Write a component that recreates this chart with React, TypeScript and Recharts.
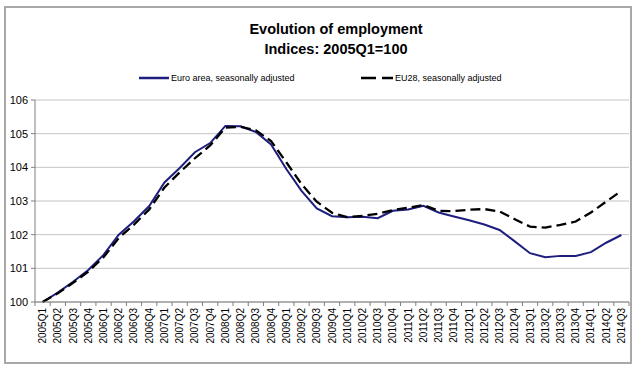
import React from "react";
import { LineChart, Line, XAxis, YAxis, CartesianGrid } from "recharts";

const quarters: string[] = [
  "2005Q1","2005Q2","2005Q3","2005Q4",
  "2006Q1","2006Q2","2006Q3","2006Q4",
  "2007Q1","2007Q2","2007Q3","2007Q4",
  "2008Q1","2008Q2","2008Q3","2008Q4",
  "2009Q1","2009Q2","2009Q3","2009Q4",
  "2010Q1","2010Q2","2010Q3","2010Q4",
  "2011Q1","2011Q2","2011Q3","2011Q4",
  "2012Q1","2012Q2","2012Q3","2012Q4",
  "2013Q1","2013Q2","2013Q3","2013Q4",
  "2014Q1","2014Q2","2014Q3",
];

const euroArea: number[] = [
  100.0, 100.28, 100.6, 100.95,
  101.4, 102.0, 102.4, 102.85,
  103.55, 103.98, 104.45, 104.72,
  105.23, 105.22, 105.05, 104.68,
  103.95, 103.3, 102.78, 102.55,
  102.52, 102.53, 102.49, 102.71,
  102.75, 102.86, 102.66, 102.54,
  102.43, 102.3, 102.14, 101.8,
  101.45, 101.33, 101.37, 101.37,
  101.48, 101.76, 101.99,
];

const eu28: number[] = [
  100.0, 100.26, 100.57, 100.9,
  101.33, 101.9, 102.3, 102.75,
  103.4, 103.85, 104.27, 104.65,
  105.18, 105.2, 105.1, 104.78,
  104.15, 103.5, 102.98, 102.65,
  102.52, 102.56, 102.62, 102.73,
  102.8, 102.88, 102.71, 102.7,
  102.74, 102.76, 102.69, 102.46,
  102.24, 102.21, 102.29, 102.39,
  102.66, 102.98, 103.3,
];

const yTicks: number[] = [100, 101, 102, 103, 104, 105, 106];

const titleLines: string[] = ["Evolution of employment", "Indices: 2005Q1=100"];
const legendLabels: string[] = ["Euro area, seasonally adjusted", "EU28, seasonally adjusted"];

const data = quarters.map((q, i) => ({ q, euro: euroArea[i], eu28: eu28[i] }));

const FONT = "'Liberation Sans', Arial, sans-serif";
const BLUE = "#1e1e7e";
const HALF_BAND = 7.6;

const XTick = (props: any) => {
  const { x, y, payload, index } = props;
  const axisY = y - 6;
  const last = index === quarters.length - 1;
  return (
    <g>
      <line x1={x - HALF_BAND} x2={x - HALF_BAND} y1={axisY} y2={axisY + 4} stroke="#808080" />
      {last && (
        <line x1={x + HALF_BAND} x2={x + HALF_BAND} y1={axisY} y2={axisY + 4} stroke="#808080" />
      )}
      <text
        x={x}
        y={y}
        transform={`rotate(-90, ${x}, ${y})`}
        textAnchor="end"
        dy="0.35em"
        fontSize={10}
        fontFamily={FONT}
        fill="#000"
      >
        {payload.value}
      </text>
    </g>
  );
};

export default function App() {
  return (
    <div style={{ position: "absolute", left: 0, top: 0, width: 640, height: 370, background: "#fff" }}>
      <LineChart
        width={640}
        height={370}
        data={data}
        margin={{ top: 100, right: 11, bottom: 0, left: 0 }}
      >
        <CartesianGrid horizontal vertical={false} stroke="#c4c4c4" strokeWidth={1} />
        <XAxis
          dataKey="q"
          type="category"
          interval={0}
          height={68}
          padding={{ left: HALF_BAND, right: HALF_BAND }}
          tickLine={false}
          tickSize={4}
          tickMargin={2}
          axisLine={{ stroke: "#808080" }}
          tick={<XTick />}
        />
        <YAxis
          width={35}
          domain={[100, 106]}
          ticks={yTicks}
          interval={0}
          tickSize={4}
          tickMargin={3}
          axisLine={{ stroke: "#808080" }}
          tickLine={{ stroke: "#808080" }}
          tick={{ fontSize: 11, fill: "#000", fontFamily: FONT }}
        />
        <Line
          type="linear"
          dataKey="euro"
          stroke={BLUE}
          strokeWidth={2}
          dot={false}
          isAnimationActive={false}
        />
        <Line
          type="linear"
          dataKey="eu28"
          stroke="#000"
          strokeWidth={2.3}
          strokeDasharray="10 5"
          dot={false}
          isAnimationActive={false}
        />
      </LineChart>
      <svg
        width={640}
        height={370}
        style={{ position: "absolute", left: 0, top: 0, pointerEvents: "none" }}
      >
        <rect x={5} y={7} width={626} height={356} fill="none" stroke="#a8a8a8" strokeWidth={2} />
        <text x={336} y={34} textAnchor="middle" fontSize={14.5} fontWeight="bold" fontFamily={FONT} fill="#000">
          {titleLines[0]}
        </text>
        <text x={336} y={54} textAnchor="middle" fontSize={14.5} fontWeight="bold" fontFamily={FONT} fill="#000">
          {titleLines[1]}
        </text>
        <line x1={139} x2={169} y1={78} y2={78} stroke={BLUE} strokeWidth={2.5} />
        <text x={171} y={81} fontSize={9} fontFamily={FONT} fill="#000">
          {legendLabels[0]}
        </text>
        <line x1={361} x2={393} y1={78} y2={78} stroke="#000" strokeWidth={2.5} strokeDasharray="15 6" />
        <text x={395} y={81} fontSize={9} fontFamily={FONT} fill="#000">
          {legendLabels[1]}
        </text>
      </svg>
    </div>
  );
}
